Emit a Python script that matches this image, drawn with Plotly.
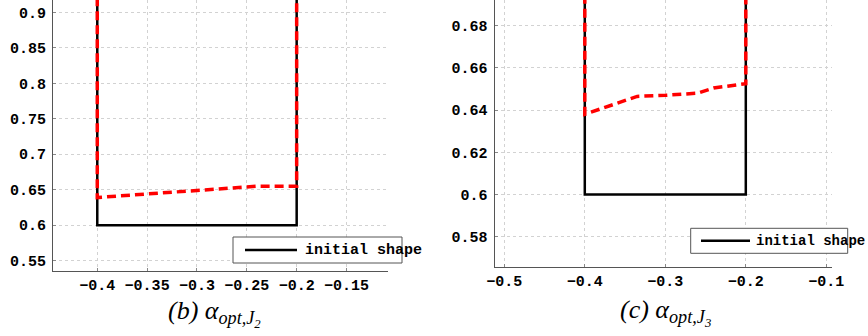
import plotly.graph_objects as go

W, H = 868, 336

# ---- data ----
# initial shape (same for both panels); top value runs beyond visible range
init_x = [-0.4, -0.4, -0.2, -0.2]
init_y = [1.0, 0.6, 0.6, 1.0]

# optimized shape, panel (b) J2
j2_x = [-0.4, -0.4, -0.35, -0.30, -0.25, -0.24, -0.2, -0.2]
j2_y = [1.0, 0.639, 0.644, 0.649, 0.653, 0.655, 0.655, 1.0]

# optimized shape, panel (c) J3
j3_x = [-0.4, -0.4, -0.335, -0.30, -0.26, -0.24, -0.2, -0.2]
j3_y = [1.0, 0.638, 0.6465, 0.647, 0.648, 0.6505, 0.6525, 1.0]

left_xticks = [-0.4, -0.35, -0.3, -0.25, -0.2, -0.15]
left_yticks = [0.55, 0.6, 0.65, 0.7, 0.75, 0.8, 0.85, 0.9]
right_xticks = [-0.5, -0.4, -0.3, -0.2, -0.1]
right_yticks = [0.58, 0.6, 0.62, 0.64, 0.66, 0.68]

legend_label = "initial shape"
captions = ["<i>(b) α<sub>opt,J<sub>2</sub></sub></i>", "<i>(c) α<sub>opt,J<sub>3</sub></sub></i>"]


def px(x):
    return x / W


def py(y):
    return 1 - y / H


fig = go.Figure()

black = dict(color="black", width=2.5)
red = dict(color="#ff0000", width=3.5, dash="9px,5px")

fig.add_trace(go.Scatter(x=init_x, y=init_y, mode="lines", line=black,
                         xaxis="x", yaxis="y", showlegend=False))
fig.add_trace(go.Scatter(x=j2_x, y=j2_y, mode="lines", line=red,
                         xaxis="x", yaxis="y", showlegend=False))
fig.add_trace(go.Scatter(x=init_x, y=init_y, mode="lines", line=black,
                         xaxis="x2", yaxis="y2", showlegend=False))
fig.add_trace(go.Scatter(x=j3_x, y=j3_y, mode="lines", line=red,
                         xaxis="x2", yaxis="y2", showlegend=False))

tickfont = dict(family="Liberation Mono", size=15, color="black", weight="bold")
axcommon = dict(showgrid=True, gridcolor="#d2d2d2", griddash="dot", gridwidth=1,
                showline=True, linecolor="#555", linewidth=1.2, zeroline=False,
                ticks="inside", ticklen=3, tickcolor="#888", tickfont=tickfont,
                automargin=False)

fig.update_layout(
    width=W, height=H,
    margin=dict(l=0, r=0, t=0, b=0),
    paper_bgcolor="white", plot_bgcolor="white",
    template="none",
    xaxis=dict(domain=[px(53), px(388)], range=[-0.4444, -0.1084], anchor="y",
               tickvals=left_xticks, ticktext=[f"{v:g}".replace("-", "−") for v in left_xticks],
               **axcommon),
    yaxis=dict(domain=[py(271), 1], range=[0.5355, 0.9173], anchor="x",
               tickvals=left_yticks, ticktext=[f"{v:g}" for v in left_yticks],
               ticklabelstandoff=3, **axcommon),
    xaxis2=dict(domain=[px(494.7), px(831.7)], range=[-0.5119, -0.0933], anchor="y2",
                tickvals=right_xticks, ticktext=[f"{v:g}".replace("-", "−") for v in right_xticks],
                **axcommon),
    yaxis2=dict(domain=[py(267), 1], range=[0.5656, 0.6922], anchor="x2",
                tickvals=right_yticks, ticktext=[f"{v:g}" for v in right_yticks],
                ticklabelstandoff=3, **axcommon),
)

# legend boxes (drawn manually so text can overflow like the reference)
for (x0, x1, y0, y1, lx0, lx1, ly, tx, fs) in [
    (233, 402, 237, 263, 245, 297, 250, 303, 15),
    (690.7, 847.7, 228.3, 253.3, 701, 750, 240.7, 754, 14),
]:
    fig.add_shape(type="rect", xref="paper", yref="paper",
                  x0=px(x0), x1=px(x1), y0=py(y1), y1=py(y0),
                  line=dict(color="#555", width=1), fillcolor="white", layer="above")
    fig.add_shape(type="line", xref="paper", yref="paper",
                  x0=px(lx0), x1=px(lx1), y0=py(ly), y1=py(ly),
                  line=dict(color="black", width=2.5), layer="above")
    fig.add_annotation(xref="paper", yref="paper", x=px(tx), y=py(ly),
                       xanchor="left", yanchor="middle", showarrow=False,
                       text=legend_label,
                       font=dict(family="Liberation Mono", size=fs, color="black", weight="bold"))

for cx, cy, txt in [(214, 313, captions[0]), (665, 312, captions[1])]:
    fig.add_annotation(xref="paper", yref="paper", x=px(cx), y=py(cy),
                       xanchor="center", yanchor="middle", showarrow=False,
                       text=txt, font=dict(family="Liberation Serif", size=26, color="black"))

fig.write_html("out.html", config={"displayModeBar": False},
               post_script="document.body.style.margin='0';document.body.style.padding='0';document.body.style.overflow='hidden';")
